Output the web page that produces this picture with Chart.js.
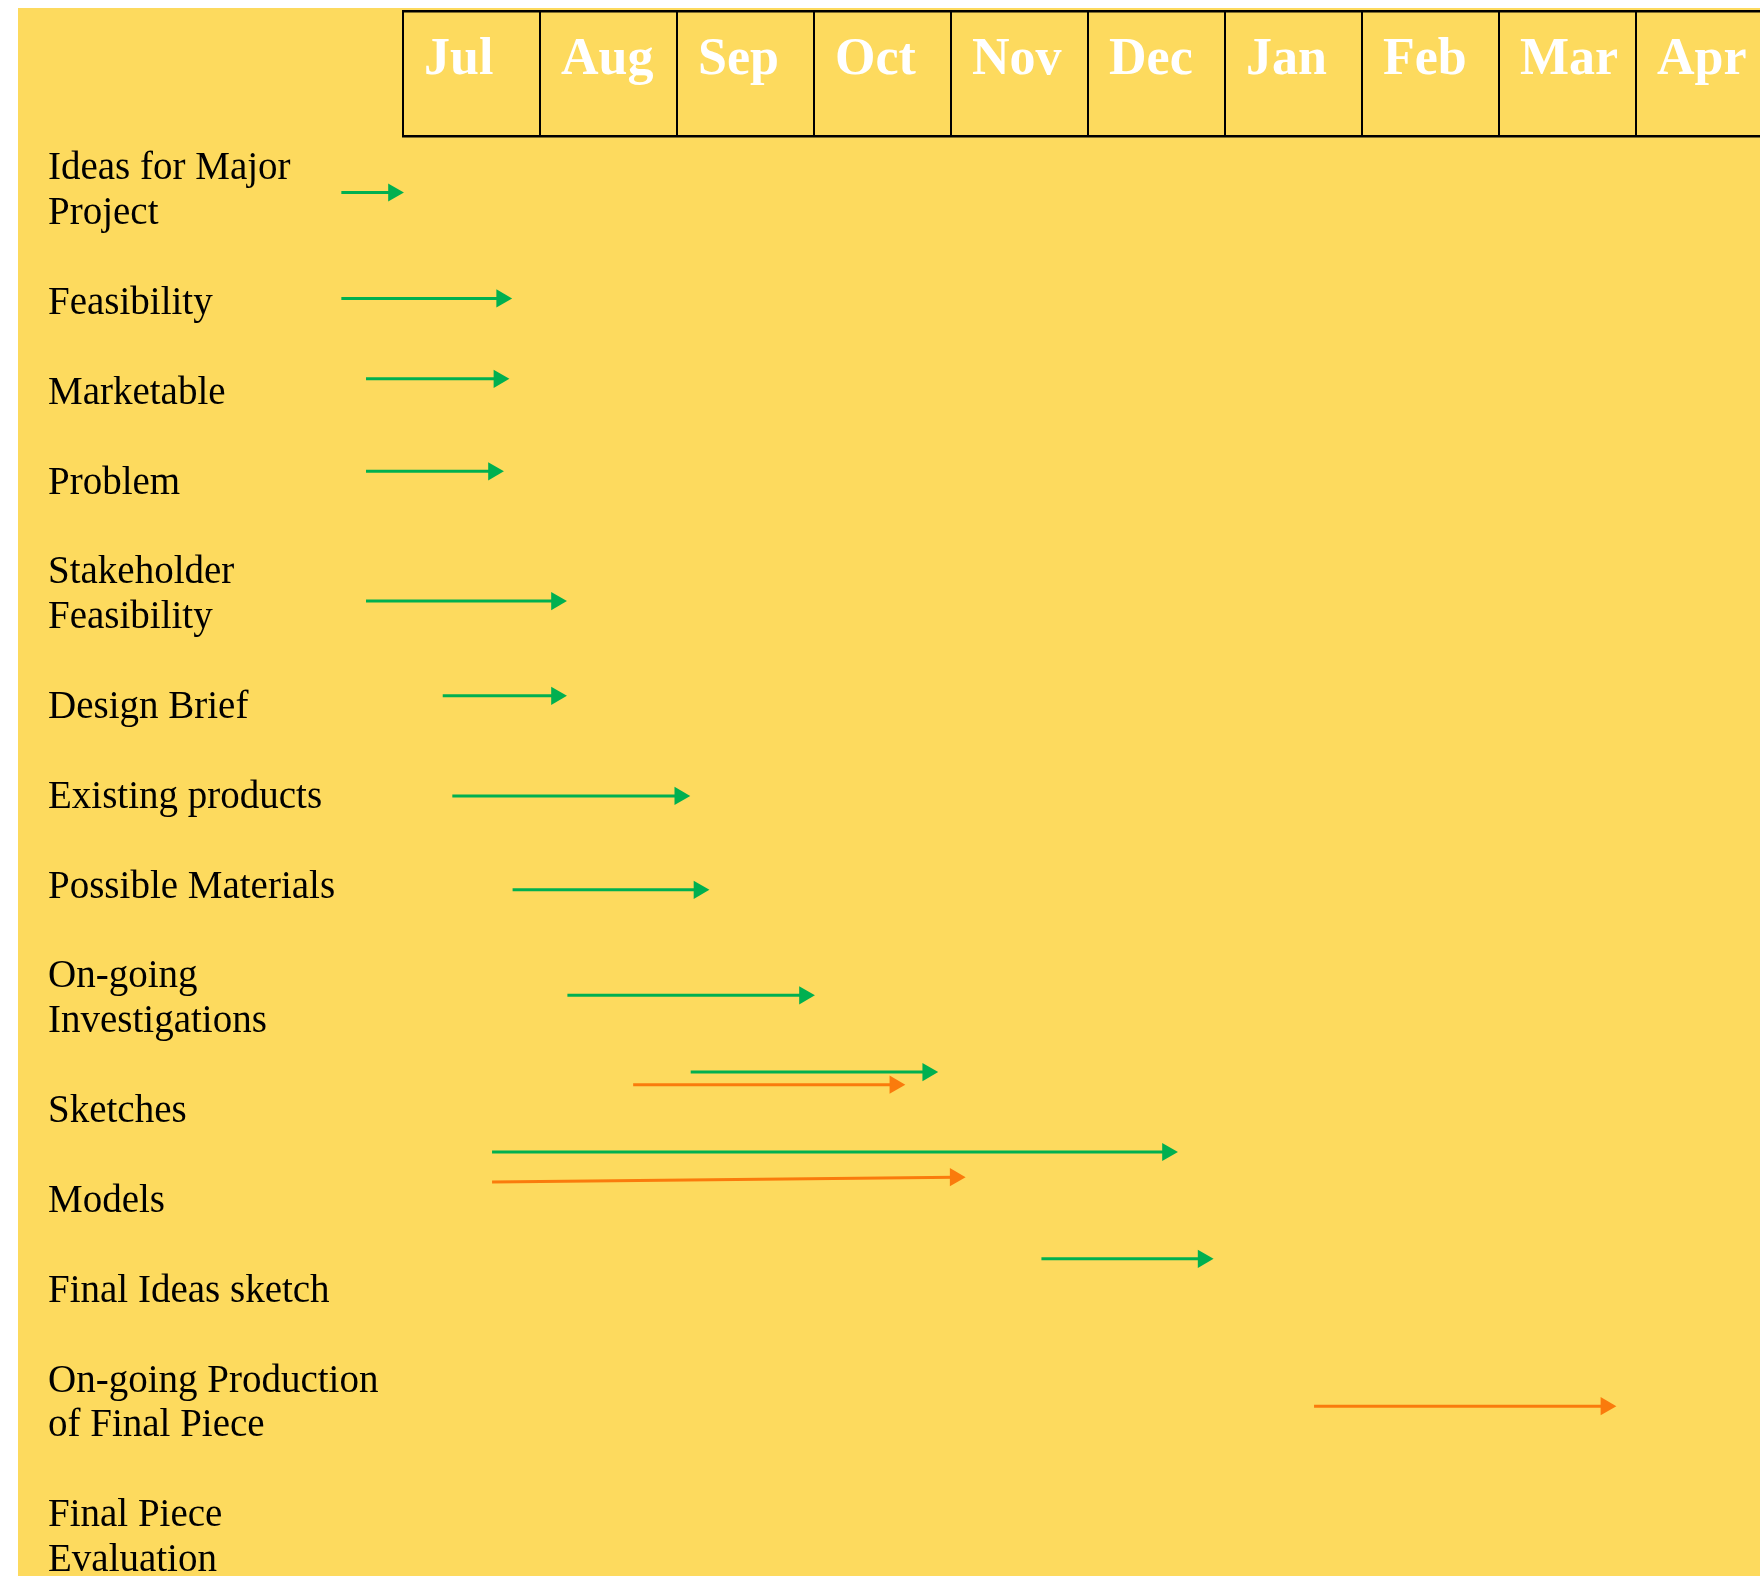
<!DOCTYPE html>
<html>
<head>
<meta charset="utf-8">
<title>Major Project Plan</title>
<script src="https://cdn.jsdelivr.net/npm/chart.js@4/dist/chart.umd.min.js"></script>
<style>
  html, body { margin: 0; padding: 0; background: #fff; }
  #wrap { position: absolute; left: 18px; top: 8px; width: 1742px; height: 1568px; background: #FDDA5E; }
</style>
</head>
<body>
<div id="wrap"><canvas id="plan"></canvas></div>
<script>
'use strict';

// DATA
const months = ['Jul', 'Aug', 'Sep', 'Oct', 'Nov', 'Dec', 'Jan', 'Feb', 'Mar', 'Apr'];

const tasks = [
  ['Ideas for Major', 'Project'],
  ['Feasibility'],
  ['Marketable'],
  ['Problem'],
  ['Stakeholder', 'Feasibility'],
  ['Design Brief'],
  ['Existing products'],
  ['Possible Materials'],
  ['On-going', 'Investigations'],
  ['Sketches'],
  ['Models'],
  ['Final Ideas sketch'],
  ['On-going Production', 'of Final Piece'],
  ['Final Piece', 'Evaluation'],
];

// green arrows: months counted from the start of Jul, row = text line of the list
const greenStart = [-0.45, -0.45, -0.27, -0.27, -0.27, 0.29, 0.36, 0.80, 1.20, 2.10, 0.65, 4.66, null, null];
const greenEnd = [-0.07, 0.72, 0.70, 0.66, 1.12, 1.12, 2.02, 2.16, 2.93, 3.83, 5.58, 5.84, null, null];
const greenRow = [0.59, 2.95, 4.74, 6.80, 9.69, 11.80, 14.03, 16.12, 18.47, 20.18, 21.96, 24.34, null, null];

// orange arrows
const orangeStart = [null, null, null, null, null, null, null, null, null, 1.68, 0.65, null, 6.65, null];
const orangeEnd = [null, null, null, null, null, null, null, null, null, 3.59, 4.03, null, 8.78, null];
const orangeRowStart = [null, null, null, null, null, null, null, null, null, 20.46, 22.63, null, 27.62, null];
const orangeRowEnd = [null, null, null, null, null, null, null, null, null, 20.46, 22.52, null, 27.62, null];

// each label takes its own lines plus one empty line
const taskLines = [];
let line = 0;
tasks.forEach(t => {
  taskLines.push(line + (t.length - 1) / 2);
  line += t.length + 1;
});

function arrows(color, start, end, rowStart, rowEnd) {
  const sets = [];
  start.forEach((s, i) => {
    if (s === null) return;
    sets.push({
      data: [{ x: s, y: rowStart[i] }, { x: end[i], y: rowEnd[i] }],
      borderColor: color,
      backgroundColor: color,
      borderWidth: 3,
      tension: 0,
      clip: false,
      pointStyle: 'triangle',
      pointRotation: 90,
      pointBorderWidth: 0,
      pointRadius: c => (c.dataIndex === 1 ? 10.5 : 0),
      // big hover radius keeps the head drawn when it sits left of the Jul line
      pointHoverRadius: 30,
    });
  });
  return sets;
}

const GREEN = '#00B050';
const ORANGE = '#FA7B0C';

const ctx = document.querySelector('#plan');

const planChart = new Chart(ctx, {
  type: 'line',
  data: {
    datasets: [
      ...arrows(GREEN, greenStart, greenEnd, greenRow, greenRow),
      ...arrows(ORANGE, orangeStart, orangeEnd, orangeRowStart, orangeRowEnd),
    ],
  },
  options: {
    responsive: true,
    maintainAspectRatio: false,
    animation: false,
    events: [],
    layout: { autoPadding: false, padding: { left: 30, top: 3, right: 0, bottom: 0 } },
    plugins: { legend: { display: false }, tooltip: { enabled: false } },
    scales: {
      x: {
        type: 'linear',
        position: 'top',
        min: 0,
        max: 9.905,
        afterBuildTicks: s => { s.ticks = months.map((m, i) => ({ value: i })); },
        afterFit: s => { s.height = 125; s.paddingLeft = 0; s.paddingRight = 0; },
        grid: { display: true, drawOnChartArea: false, drawTicks: true, tickLength: 125, color: '#000', lineWidth: 2 },
        border: { display: true, color: '#000', width: 2.5 },
        ticks: {
          callback: (v, i) => months[i],
          color: '#fff',
          font: { family: 'Liberation Serif', size: 52, weight: 'bold', lineHeight: 1.2 },
          align: 'start',
          labelOffset: 21,
          padding: -81,
          maxRotation: 0,
          minRotation: 0,
          autoSkip: false,
        },
      },
      xTop: {
        type: 'linear',
        position: 'top',
        weight: 1,
        afterFit: s => { s.height = 0; s.paddingLeft = 0; s.paddingRight = 0; },
        grid: { display: false, drawTicks: false },
        ticks: { display: false },
        border: { display: true, color: '#000', width: 2.5 },
      },
      y: {
        type: 'linear',
        position: 'left',
        reverse: true,
        min: -0.668,
        max: 31.403,
        afterBuildTicks: s => { s.ticks = taskLines.map(v => ({ value: v })); },
        afterFit: s => { s.width = 355; s.paddingTop = 0; s.paddingBottom = 0; },
        grid: { display: false },
        border: { display: false },
        ticks: {
          callback: (v, i) => tasks[i],
          color: '#000',
          font: { family: 'Liberation Serif', size: 39, lineHeight: 1.151 },
          crossAlign: 'far',
          labelOffset: 3,
          padding: 0,
          autoSkip: false,
        },
      },
    },
  },
});
</script>
</body>
</html>
